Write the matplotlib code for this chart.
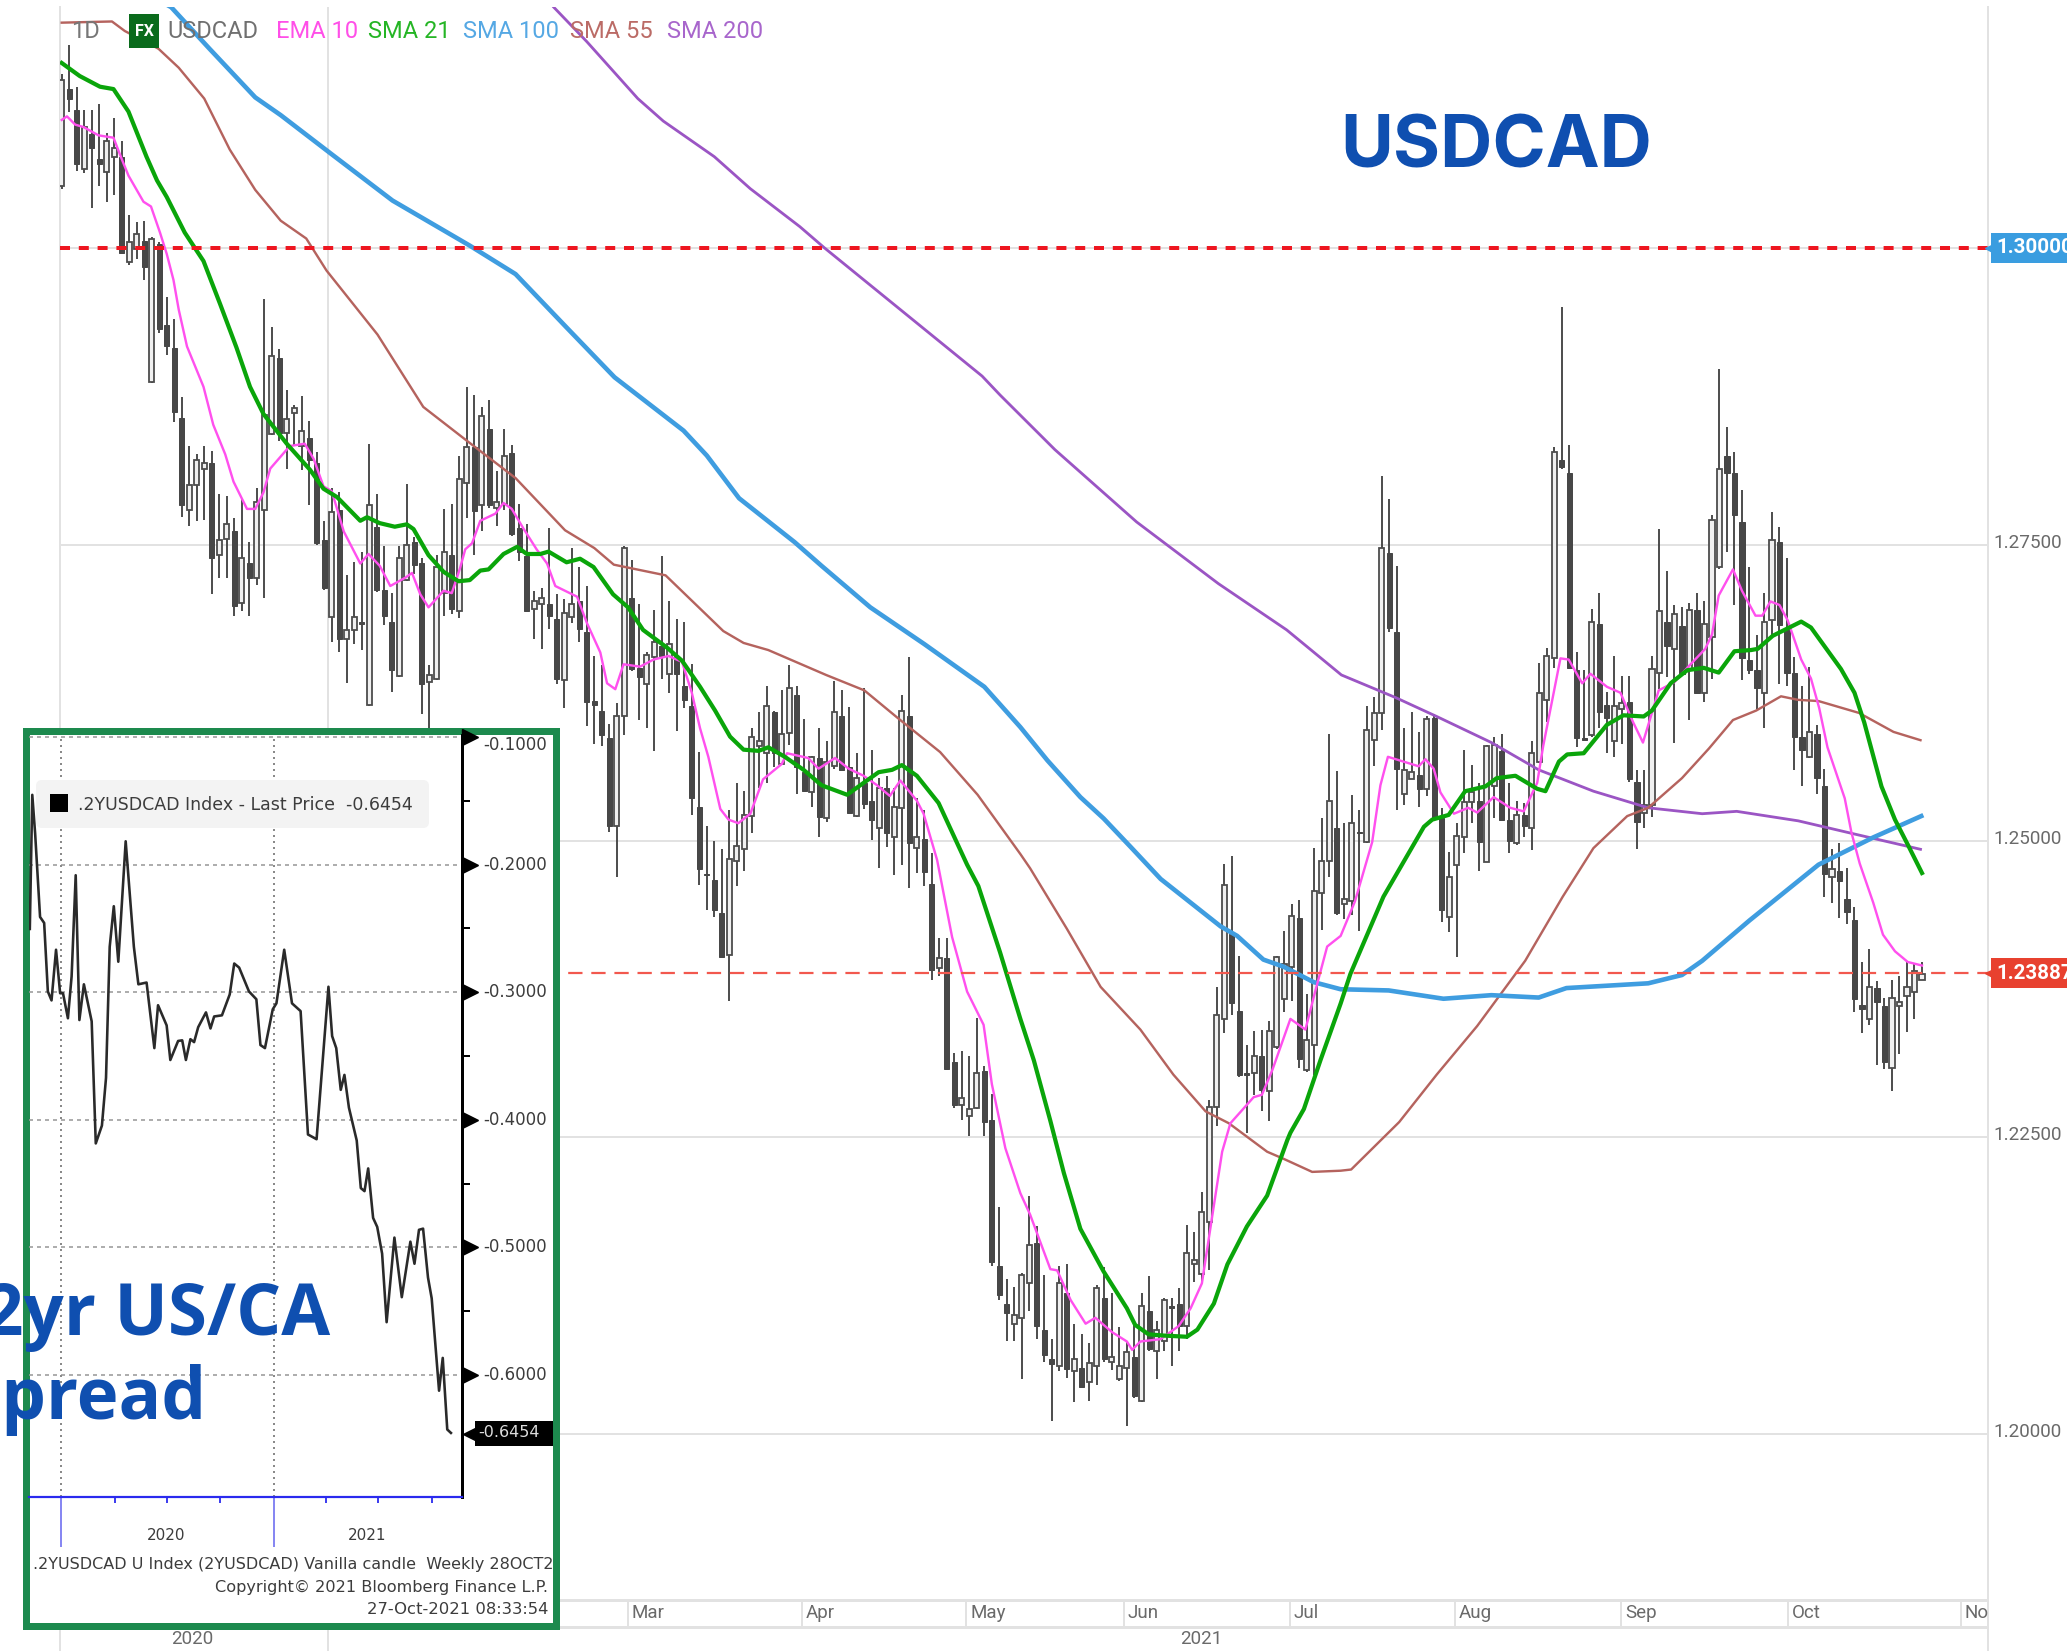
import matplotlib
matplotlib.use("Agg")
import matplotlib.pyplot as plt
from matplotlib.patches import Rectangle, FancyBboxPatch
import numpy as np

W, H = 2067, 1651
plt.rcParams['font.family'] = ['Roboto', 'DejaVu Sans']

# USDCAD daily candles, one entry per bar
opens = [
    1.3052, 1.3134, 1.3116, 1.3067, 1.3096, 1.3075, 1.3064, 1.3077, 1.3077, 1.2988,
    1.2999, 1.3006, 1.2887, 1.3003, 1.2935, 1.2916, 1.2857, 1.2779, 1.2800, 1.2814,
    1.2819, 1.2741, 1.2755, 1.2761, 1.2701, 1.2734, 1.2722, 1.2779, 1.2843, 1.2907,
    1.2844, 1.2861, 1.2833, 1.2840, 1.2819, 1.2754, 1.2689, 1.2779, 1.2670, 1.2678,
    1.2685, 1.2615, 1.2765, 1.2712, 1.2685, 1.2639, 1.2720, 1.2752, 1.2734, 1.2634,
    1.2637, 1.2709, 1.2741, 1.2694, 1.2802, 1.2832, 1.2783, 1.2847, 1.2781, 1.2784,
    1.2827, 1.2764, 1.2740, 1.2696, 1.2700, 1.2700, 1.2687, 1.2636, 1.2689, 1.2702,
    1.2676, 1.2618, 1.2610, 1.2587, 1.2513, 1.2605, 1.2705, 1.2646, 1.2632, 1.2655,
    1.2664, 1.2641, 1.2656, 1.2631, 1.2614, 1.2529, 1.2472, 1.2467, 1.2439, 1.2404,
    1.2483, 1.2493, 1.2521, 1.2580, 1.2574, 1.2609, 1.2565, 1.2591, 1.2623, 1.2558,
    1.2541, 1.2570, 1.2519, 1.2563, 1.2605, 1.2562, 1.2521, 1.2549, 1.2534, 1.2511,
    1.2545, 1.2503, 1.2528, 1.2605, 1.2494, 1.2502, 1.2464, 1.2393, 1.2401, 1.2314,
    1.2277, 1.2268, 1.2275, 1.2306, 1.2265, 1.2142, 1.2110, 1.2093, 1.2098, 1.2127,
    1.2161, 1.2088, 1.2063, 1.2057, 1.2119, 1.2053, 1.2056, 1.2044, 1.2057, 1.2115,
    1.2061, 1.2046, 1.2056, 1.2065, 1.2028, 1.2104, 1.2070, 1.2078, 1.2108, 1.2110,
    1.2091, 1.2143, 1.2135, 1.2179, 1.2276, 1.2350, 1.2422, 1.2357, 1.2304, 1.2304,
    1.2319, 1.2289, 1.2326, 1.2367, 1.2394, 1.2435, 1.2307, 1.2328, 1.2456, 1.2483,
    1.2511, 1.2447, 1.2449, 1.2508, 1.2499, 1.2585, 1.2608, 1.2743, 1.2676, 1.2540,
    1.2552, 1.2556, 1.2544, 1.2604, 1.2519, 1.2436, 1.2480, 1.2503, 1.2533, 1.2534,
    1.2482, 1.2546, 1.2576, 1.2518, 1.2498, 1.2522, 1.2511, 1.2567, 1.2619, 1.2654,
    1.2821, 1.2810, 1.2644, 1.2587, 1.2589, 1.2683, 1.2615, 1.2584, 1.2611, 1.2617,
    1.2550, 1.2524, 1.2530, 1.2642, 1.2685, 1.2662, 1.2681, 1.2645, 1.2695, 1.2625,
    1.2672, 1.2731, 1.2825, 1.2810, 1.2769, 1.2653, 1.2644, 1.2625, 1.2686, 1.2752,
    1.2680, 1.2642, 1.2588, 1.2571, 1.2590, 1.2546, 1.2470, 1.2475, 1.2451, 1.2433,
    1.2362, 1.2350, 1.2376, 1.2361, 1.2309, 1.2361, 1.2369, 1.2373, 1.2383,
]
closes = [
    1.3142, 1.3126, 1.3071, 1.3102, 1.3084, 1.3071, 1.3090, 1.3084, 1.2996, 1.3005,
    1.3012, 1.2984, 1.3008, 1.2932, 1.2917, 1.2862, 1.2783, 1.2800, 1.2821, 1.2819,
    1.2739, 1.2754, 1.2767, 1.2698, 1.2739, 1.2722, 1.2786, 1.2859, 1.2909, 1.2844,
    1.2856, 1.2865, 1.2846, 1.2821, 1.2751, 1.2713, 1.2777, 1.2670, 1.2678, 1.2689,
    1.2683, 1.2783, 1.2712, 1.2690, 1.2644, 1.2739, 1.2750, 1.2733, 1.2632, 1.2640,
    1.2731, 1.2744, 1.2696, 1.2805, 1.2832, 1.2778, 1.2858, 1.2783, 1.2786, 1.2825,
    1.2759, 1.2744, 1.2694, 1.2702, 1.2705, 1.2690, 1.2637, 1.2692, 1.2700, 1.2679,
    1.2617, 1.2615, 1.2589, 1.2513, 1.2605, 1.2747, 1.2645, 1.2638, 1.2657, 1.2668,
    1.2656, 1.2666, 1.2641, 1.2619, 1.2536, 1.2476, 1.2471, 1.2442, 1.2402, 1.2485,
    1.2496, 1.2522, 1.2588, 1.2584, 1.2614, 1.2574, 1.2590, 1.2629, 1.2562, 1.2542,
    1.2571, 1.2520, 1.2567, 1.2609, 1.2560, 1.2524, 1.2553, 1.2531, 1.2518, 1.2545,
    1.2507, 1.2529, 1.2610, 1.2498, 1.2503, 1.2474, 1.2391, 1.2401, 1.2308, 1.2277,
    1.2283, 1.2274, 1.2304, 1.2263, 1.2145, 1.2117, 1.2102, 1.2100, 1.2134, 1.2159,
    1.2091, 1.2067, 1.2059, 1.2127, 1.2055, 1.2063, 1.2040, 1.2060, 1.2123, 1.2063,
    1.2065, 1.2057, 1.2069, 1.2032, 1.2108, 1.2072, 1.2088, 1.2113, 1.2106, 1.2091,
    1.2153, 1.2147, 1.2187, 1.2276, 1.2353, 1.2463, 1.2363, 1.2303, 1.2303, 1.2319,
    1.2290, 1.2340, 1.2402, 1.2396, 1.2437, 1.2316, 1.2332, 1.2458, 1.2483, 1.2534,
    1.2439, 1.2451, 1.2515, 1.2507, 1.2594, 1.2608, 1.2747, 1.2680, 1.2561, 1.2560,
    1.2558, 1.2544, 1.2603, 1.2519, 1.2442, 1.2470, 1.2504, 1.2533, 1.2541, 1.2499,
    1.2580, 1.2581, 1.2518, 1.2500, 1.2522, 1.2513, 1.2574, 1.2625, 1.2656, 1.2828,
    1.2815, 1.2646, 1.2587, 1.2585, 1.2685, 1.2609, 1.2604, 1.2614, 1.2616, 1.2552,
    1.2516, 1.2530, 1.2645, 1.2694, 1.2664, 1.2691, 1.2641, 1.2695, 1.2625, 1.2683,
    1.2771, 1.2814, 1.2810, 1.2775, 1.2654, 1.2644, 1.2629, 1.2685, 1.2754, 1.2682,
    1.2642, 1.2588, 1.2577, 1.2592, 1.2553, 1.2472, 1.2476, 1.2466, 1.2440, 1.2367,
    1.2358, 1.2377, 1.2364, 1.2314, 1.2368, 1.2364, 1.2377, 1.2390, 1.2388,
]
highs = [
    1.3147, 1.3171, 1.3136, 1.3116, 1.3116, 1.3121, 1.3097, 1.3110, 1.3090, 1.3028,
    1.3022, 1.3023, 1.3009, 1.3005, 1.2959, 1.2940, 1.2874, 1.2833, 1.2826, 1.2833,
    1.2829, 1.2793, 1.2791, 1.2772, 1.2788, 1.2752, 1.2798, 1.2957, 1.2933, 1.2915,
    1.2880, 1.2868, 1.2875, 1.2854, 1.2828, 1.2770, 1.2798, 1.2794, 1.2724, 1.2735,
    1.2744, 1.2835, 1.2793, 1.2749, 1.2709, 1.2749, 1.2801, 1.2756, 1.2739, 1.2648,
    1.2741, 1.2780, 1.2784, 1.2825, 1.2883, 1.2876, 1.2866, 1.2872, 1.2812, 1.2847,
    1.2834, 1.2784, 1.2767, 1.2711, 1.2713, 1.2764, 1.2708, 1.2704, 1.2747, 1.2731,
    1.2715, 1.2656, 1.2648, 1.2599, 1.2616, 1.2749, 1.2737, 1.2700, 1.2659, 1.2695,
    1.2740, 1.2702, 1.2687, 1.2685, 1.2649, 1.2575, 1.2513, 1.2500, 1.2493, 1.2526,
    1.2549, 1.2542, 1.2595, 1.2609, 1.2631, 1.2610, 1.2627, 1.2648, 1.2631, 1.2603,
    1.2572, 1.2595, 1.2584, 1.2635, 1.2627, 1.2613, 1.2574, 1.2629, 1.2577, 1.2553,
    1.2555, 1.2545, 1.2623, 1.2655, 1.2536, 1.2526, 1.2490, 1.2418, 1.2418, 1.2321,
    1.2323, 1.2319, 1.2351, 1.2310, 1.2287, 1.2191, 1.2131, 1.2124, 1.2136, 1.2201,
    1.2175, 1.2134, 1.2080, 1.2142, 1.2143, 1.2093, 1.2084, 1.2077, 1.2126, 1.2141,
    1.2119, 1.2090, 1.2078, 1.2092, 1.2119, 1.2133, 1.2095, 1.2115, 1.2115, 1.2123,
    1.2176, 1.2170, 1.2204, 1.2282, 1.2377, 1.2481, 1.2487, 1.2403, 1.2328, 1.2340,
    1.2341, 1.2348, 1.2403, 1.2424, 1.2447, 1.2450, 1.2371, 1.2494, 1.2519, 1.2590,
    1.2559, 1.2515, 1.2539, 1.2526, 1.2614, 1.2621, 1.2808, 1.2788, 1.2732, 1.2595,
    1.2609, 1.2592, 1.2605, 1.2607, 1.2528, 1.2491, 1.2515, 1.2577, 1.2564, 1.2549,
    1.2581, 1.2588, 1.2590, 1.2549, 1.2534, 1.2532, 1.2584, 1.2650, 1.2663, 1.2832,
    1.2950, 1.2834, 1.2659, 1.2644, 1.2696, 1.2709, 1.2626, 1.2656, 1.2639, 1.2639,
    1.2560, 1.2560, 1.2656, 1.2763, 1.2728, 1.2699, 1.2697, 1.2701, 1.2709, 1.2702,
    1.2775, 1.2898, 1.2849, 1.2828, 1.2796, 1.2731, 1.2674, 1.2709, 1.2777, 1.2765,
    1.2739, 1.2655, 1.2631, 1.2647, 1.2598, 1.2561, 1.2493, 1.2498, 1.2477, 1.2444,
    1.2398, 1.2409, 1.2382, 1.2368, 1.2383, 1.2386, 1.2399, 1.2396, 1.2398,
]
lows = [
    1.3050, 1.3115, 1.3065, 1.3063, 1.3034, 1.3052, 1.3039, 1.3045, 1.2995, 1.2986,
    1.2991, 1.2973, 1.2886, 1.2928, 1.2910, 1.2853, 1.2773, 1.2766, 1.2770, 1.2771,
    1.2708, 1.2722, 1.2722, 1.2690, 1.2694, 1.2690, 1.2716, 1.2705, 1.2842, 1.2837,
    1.2814, 1.2833, 1.2813, 1.2783, 1.2750, 1.2712, 1.2668, 1.2659, 1.2633, 1.2666,
    1.2661, 1.2614, 1.2710, 1.2682, 1.2626, 1.2638, 1.2719, 1.2725, 1.2607, 1.2593,
    1.2636, 1.2690, 1.2691, 1.2688, 1.2772, 1.2741, 1.2761, 1.2781, 1.2766, 1.2779,
    1.2757, 1.2736, 1.2693, 1.2670, 1.2662, 1.2679, 1.2632, 1.2612, 1.2684, 1.2668,
    1.2597, 1.2582, 1.2580, 1.2508, 1.2470, 1.2589, 1.2643, 1.2602, 1.2595, 1.2576,
    1.2637, 1.2625, 1.2593, 1.2612, 1.2522, 1.2463, 1.2442, 1.2436, 1.2401, 1.2365,
    1.2462, 1.2475, 1.2507, 1.2545, 1.2549, 1.2562, 1.2564, 1.2581, 1.2540, 1.2542,
    1.2529, 1.2503, 1.2516, 1.2561, 1.2559, 1.2523, 1.2520, 1.2527, 1.2501, 1.2477,
    1.2495, 1.2471, 1.2480, 1.2460, 1.2473, 1.2462, 1.2383, 1.2386, 1.2308, 1.2275,
    1.2265, 1.2251, 1.2274, 1.2251, 1.2142, 1.2113, 1.2078, 1.2078, 1.2046, 1.2104,
    1.2080, 1.2061, 1.2011, 1.2053, 1.2047, 1.2027, 1.2039, 1.2028, 1.2041, 1.2061,
    1.2054, 1.2045, 1.2007, 1.2030, 1.2027, 1.2070, 1.2046, 1.2070, 1.2057, 1.2070,
    1.2080, 1.2128, 1.2129, 1.2138, 1.2260, 1.2338, 1.2353, 1.2301, 1.2254, 1.2286,
    1.2272, 1.2264, 1.2325, 1.2356, 1.2365, 1.2309, 1.2305, 1.2303, 1.2425, 1.2470,
    1.2438, 1.2434, 1.2438, 1.2424, 1.2498, 1.2563, 1.2594, 1.2676, 1.2526, 1.2530,
    1.2552, 1.2529, 1.2538, 1.2517, 1.2432, 1.2423, 1.2402, 1.2490, 1.2515, 1.2475,
    1.2482, 1.2519, 1.2517, 1.2490, 1.2497, 1.2503, 1.2492, 1.2566, 1.2600, 1.2646,
    1.2814, 1.2645, 1.2579, 1.2584, 1.2588, 1.2595, 1.2574, 1.2571, 1.2582, 1.2550,
    1.2493, 1.2511, 1.2520, 1.2628, 1.2638, 1.2583, 1.2641, 1.2602, 1.2624, 1.2617,
    1.2637, 1.2729, 1.2744, 1.2699, 1.2636, 1.2641, 1.2611, 1.2595, 1.2672, 1.2632,
    1.2631, 1.2560, 1.2546, 1.2570, 1.2540, 1.2453, 1.2448, 1.2435, 1.2430, 1.2356,
    1.2338, 1.2345, 1.2311, 1.2308, 1.2289, 1.2320, 1.2339, 1.2350, 1.2383,
]

# moving averages: bar position and price
ema10_x = [0, .7, 1.8, 2.9, 4.9, 6.9, 8, 8.9, 10.9, 11.9, 13.1, 14, 14.9, 15.6, 16.7, 18.9, 20.2, 21.8, 22.9, 24.7,
           25.8, 26.9, 27.8, 30.4, 32.4, 33.6, 34.9, 36, 37.6, 39.8, 40.9, 42.4, 43.8, 45.8, 46.7, 47.8, 48.9, 50.9,
           52, 53.1, 53.8, 54.7, 55.8, 57.8, 58.9, 60, 61.5, 63.3, 64.7, 65.8, 68.7, 70, 71.8, 72.7, 73.8, 74.9, 77.1,
           78.9, 80.9, 82.7, 84, 85.1, 86.2, 87.8, 88.9, 90.2, 91.8, 93.5, 96, 96.7, 99.5, 100.9, 103.1, 104.9, 106.9,
           108.7, 110.4, 111.8, 114, 114.9, 116.7, 118.7, 120.7, 122.9, 124, 125.8, 127.8, 129.1, 131.8, 132.7, 134.5,
           136.5, 137.8, 140, 142, 142.7, 143.8, 146.5, 148.9, 150.5, 152, 153.6, 154.7, 155.8, 158.9, 160, 161.4,
           163.8, 165.8, 167.1, 168.7, 170.5, 172.4, 174.7, 175.8, 176.8, 180.9, 181.8, 182.9, 183.8, 185.6, 187.5,
           188.7, 190.9, 193.1, 194.9, 196.7, 197.5, 199.8, 200.9, 202.7, 203.8, 206, 207.8, 209.5, 210.8, 212.9, 215,
           217, 219.1, 220, 220.9, 222.8, 224, 225.8, 226.7, 227.8, 229, 230.1, 231.9, 233.2, 234.3, 235.4, 237.7,
           238.6, 239.7, 241.5, 242.8, 244.4, 246.1, 248]
ema10_y = [1.3108, 1.3111, 1.3104, 1.3102, 1.3095, 1.3093, 1.3075, 1.3061, 1.3039, 1.3035, 1.3013, 1.2995, 1.2973,
           1.2948, 1.2917, 1.2883, 1.2851, 1.2826, 1.2803, 1.2780, 1.2780, 1.2794, 1.2814, 1.2833, 1.2835, 1.2822,
           1.2799, 1.2795, 1.2761, 1.2734, 1.2742, 1.2732, 1.2715, 1.2722, 1.2726, 1.2708, 1.2697, 1.2711, 1.2709,
           1.2730, 1.2746, 1.2751, 1.2770, 1.2776, 1.2785, 1.2780, 1.2764, 1.2746, 1.2734, 1.2715, 1.2706, 1.2684,
           1.2659, 1.2633, 1.2628, 1.2649, 1.2647, 1.2653, 1.2656, 1.2651, 1.2625, 1.2595, 1.2571, 1.2527, 1.2518,
           1.2515, 1.2523, 1.2552, 1.2565, 1.2574, 1.2570, 1.2561, 1.2570, 1.2561, 1.2555, 1.2547, 1.2538, 1.2551,
           1.2534, 1.2523, 1.2484, 1.2419, 1.2373, 1.2345, 1.2295, 1.2241, 1.2203, 1.2185, 1.2139, 1.2138, 1.2113,
           1.2093, 1.2098, 1.2086, 1.2078, 1.2071, 1.2078, 1.2080, 1.2091, 1.2106, 1.2127, 1.2193, 1.2238, 1.2262,
           1.2284, 1.2286, 1.2307, 1.2350, 1.2341, 1.2373, 1.2411, 1.2420, 1.2449, 1.2499, 1.2547, 1.2571, 1.2563,
           1.2569, 1.2561, 1.2541, 1.2523, 1.2528, 1.2524, 1.2537, 1.2528, 1.2525, 1.2549, 1.2580, 1.2654, 1.2653,
           1.2633, 1.2641, 1.2630, 1.2625, 1.2600, 1.2583, 1.2627, 1.2634, 1.2648, 1.2662, 1.2674, 1.2707, 1.2729,
           1.2711, 1.2690, 1.2690, 1.2702, 1.2699, 1.2686, 1.2653, 1.2637, 1.2612, 1.2579, 1.2536, 1.2507, 1.2481,
           1.2448, 1.2421, 1.2407, 1.2398, 1.2395]

sma21_x = [0, 2.4, 5.1, 6.9, 8.9, 11.3, 12.7, 14, 16.4, 18.9, 21.1, 23.3, 25.1, 26.9, 30, 33.1, 34.9, 36.7, 39.8, 40.7,
           42.4, 44.4, 46, 46.9, 48.9, 50.9, 52.9, 54.4, 55.8, 56.9, 58.9, 60.7, 62, 63.8, 64.9, 67.3, 69.1, 70.9, 73.5,
           75.5, 77.5, 80.7, 82.7, 85.1, 87.1, 89.1, 90.9, 92.9, 94.2, 96.4, 98.9, 101.3, 104.7, 106.9, 108.9, 110.7,
           112, 114, 116.9, 120.7, 122.2, 125.1, 127.8, 129.6, 131.8, 133.6, 135.8, 138.9, 142, 143.1, 144.9, 146.9,
           150, 151.4, 153.6, 155.4, 158, 160.7, 163.4, 163.8, 165.6, 167.8, 170.5, 171.8, 176.2, 181.6, 182.7, 184.9,
           187.1, 189.8, 191.3, 193.8, 196.7, 197.8, 199.6, 200.7, 202.9, 206, 208.2, 210.9, 212, 214.5, 216.7, 218.9,
           220.9, 223, 225.2, 226.1, 228.1, 231.9, 233.2, 237.2, 239, 240.3, 242.6, 244.4, 246.1, 248]
sma21_y = [1.3156, 1.3145, 1.3136, 1.3134, 1.3115, 1.3077, 1.3057, 1.3043, 1.3013, 1.2989, 1.2953, 1.2916, 1.2883,
           1.2860, 1.2835, 1.2813, 1.2797, 1.2790, 1.2770, 1.2773, 1.2768, 1.2765, 1.2767, 1.2763, 1.2741, 1.2727,
           1.2719, 1.2720, 1.2728, 1.2729, 1.2742, 1.2748, 1.2742, 1.2742, 1.2744, 1.2735, 1.2738, 1.2731, 1.2708,
           1.2697, 1.2678, 1.2663, 1.2652, 1.2630, 1.2610, 1.2588, 1.2577, 1.2576, 1.2579, 1.2571, 1.2560, 1.2547,
           1.2539, 1.2549, 1.2558, 1.2560, 1.2564, 1.2555, 1.2532, 1.2480, 1.2462, 1.2406, 1.2350, 1.2315, 1.2264,
           1.2220, 1.2173, 1.2137, 1.2106, 1.2092, 1.2084, 1.2083, 1.2082, 1.2088, 1.2110, 1.2143, 1.2175, 1.2201,
           1.2248, 1.2254, 1.2274, 1.2315, 1.2363, 1.2388, 1.2453, 1.2512, 1.2518, 1.2522, 1.2542, 1.2546, 1.2553,
           1.2555, 1.2544, 1.2542, 1.2567, 1.2573, 1.2574, 1.2598, 1.2606, 1.2605, 1.2610, 1.2633, 1.2644, 1.2646,
           1.2642, 1.2660, 1.2661, 1.2662, 1.2673, 1.2685, 1.2680, 1.2645, 1.2625, 1.2600, 1.2546, 1.2518, 1.2497,
           1.2473]

sma100_x = [13.5, 14.6, 19.7, 25.8, 29.2, 36, 44.1, 54.4, 60.5, 67.3, 73.7, 82.9, 86, 90.3, 97.7, 101.3, 107.8, 115,
            123, 127.8, 131.4, 135.8, 138.9, 142.5, 146.5, 150.9, 154.5, 156.7, 160.2, 162.9, 166.9, 170.5, 176.9,
            184.2, 190.6, 196.9, 200.6, 211.5, 216, 218.7, 225, 234.2, 241.5, 247.9]
sma100_y = [1.3207, 1.3203, 1.3168, 1.3127, 1.3112, 1.3079, 1.3040, 1.3002, 1.2978, 1.2933, 1.2891, 1.2846, 1.2825,
            1.2789, 1.2752, 1.2732, 1.2697, 1.2666, 1.2630, 1.2596, 1.2568, 1.2537, 1.2519, 1.2495, 1.2468, 1.2446,
            1.2428, 1.2420, 1.2400, 1.2394, 1.2381, 1.2375, 1.2374, 1.2367, 1.2370, 1.2368, 1.2376, 1.2380, 1.2387,
            1.2399, 1.2433, 1.2480, 1.2503, 1.2521]

sma55_x = [0, 6.7, 8.4, 12.9, 15.6, 19, 22.4, 25.8, 29.2, 32.6, 35.3, 42.1, 48.2, 53.7, 60.5, 67.1, 71, 73.6, 80.5, 88.2,
           90.9, 94.2, 101.9, 107, 111.4, 117.1, 122.1, 127.8, 129.1, 134, 138.5, 143.8, 148.2, 152.5, 155.6, 160.7,
           162.9, 166.7, 170.5, 171.9, 178.3, 183.3, 188.7, 195.1, 200.1, 204.2, 208.7, 211.5, 216, 219.6, 222.8,
           225.9, 229.2, 231.5, 234.2, 239.6, 244.2, 247.8]
sma55_y = [1.3190, 1.3191, 1.3183, 1.3168, 1.3152, 1.3126, 1.3083, 1.3049, 1.3023, 1.3008, 1.2981, 1.2927, 1.2866,
           1.2839, 1.2806, 1.2762, 1.2747, 1.2733, 1.2724, 1.2677, 1.2667, 1.2661, 1.2640, 1.2627, 1.2604, 1.2575,
           1.2539, 1.2489, 1.2477, 1.2426, 1.2377, 1.2341, 1.2303, 1.2272, 1.2262, 1.2238, 1.2232, 1.2221, 1.2222,
           1.2223, 1.2263, 1.2303, 1.2344, 1.2399, 1.2453, 1.2494, 1.2521, 1.2528, 1.2553, 1.2578, 1.2602, 1.2610,
           1.2622, 1.2619, 1.2618, 1.2608, 1.2592, 1.2585]

sma200_x = [65.6, 70, 76.8, 80.2, 87, 91.8, 98.4, 101.7, 122.7, 125.1, 132.4, 143.3, 154.2, 163.3, 170.6, 177.8, 183.3,
            190.6, 196.9, 204.2, 211.5, 218.7, 223.3, 231.5, 239.6, 247.8]
sma200_y = [1.3203, 1.3174, 1.3126, 1.3107, 1.3077, 1.3050, 1.3018, 1.3000, 1.2892, 1.2876, 1.2830, 1.2769, 1.2717,
            1.2678, 1.2640, 1.2621, 1.2605, 1.2583, 1.2560, 1.2542, 1.2528, 1.2523, 1.2525, 1.2517, 1.2505, 1.2493]

price_ticks = [1.275, 1.25, 1.225, 1.20]
price_labels = ['1.27500', '1.25000', '1.22500', '1.20000']
level_major = 1.30
last_price = 1.23887
year_bar = 35.5
month_bars = [75.5, 98.7, 120.6, 141.6, 163.7, 185.8, 207.9, 230.1, 253.2]
month_labels = ['Mar', 'Apr', 'May', 'Jun', 'Jul', 'Aug', 'Sep', 'Oct', 'Nov']

# 2yr spread inset (weekly)
spread_x = [0, .6, 1.3, 2.5, 3.5, 4.4, 5.3, 6.4, 7.4, 8.1, 9.3, 10.2, 11.2, 12.1, 13.2, 15.1, 16.1, 17.6, 18.6, 19.5,
            20.5, 21.6, 23.4, 25.4, 26.5, 28.5, 30.4, 31.3, 33.4, 34.3, 36.2, 37.2, 38.1, 39.2, 40.1, 41.1, 43, 44.1,
            45, 46.9, 48.8, 49.9, 51.1, 53.5, 55.3, 56.3, 57.4, 59.3, 60.2, 62.1, 64, 66.1, 67.9, 70, 72.9, 73.8, 74.8,
            75.9, 76.8, 77.9, 79.8, 80.8, 81.7, 82.6, 83.8, 84.8, 86, 87.1, 89, 90.8, 92.9, 93.9, 95, 96, 97.2, 98.1,
            99.9, 100.8, 101.9, 102.8]
spread_y = [-.2504, -.1453, -.1757, -.2410, -.2457, -.2994, -.3064, -.2667, -.3008, -.3008, -.3204, -.2877, -.2083,
            -.3218, -.2938, -.3228, -.4185, -.4045, -.3671, -.2644, -.2326, -.2761, -.1817, -.2644, -.2938, -.2924,
            -.3438, -.3102, -.3260, -.3531, -.3382, -.3377, -.3531, -.3368, -.3391, -.3274, -.3158, -.3284, -.3190,
            -.3181, -.3017, -.2775, -.2807, -.2994, -.3055, -.3414, -.3438, -.3134, -.3087, -.2667, -.3087, -.3148,
            -.4115, -.4152, -.2957, -.3344, -.3438, -.3765, -.3648, -.3905, -.4162, -.4535, -.4559, -.4381, -.4769,
            -.4839, -.5049, -.5586, -.4923, -.5390, -.4955, -.5128, -.4862, -.4853, -.5236, -.5399, -.6123, -.5866,
            -.6427, -.6454]
spread_major = [-.1, -.2, -.3, -.4, -.5, -.6]
spread_minor = [-.15, -.25, -.35, -.45, -.55]
spread_years = [7.6, 59.6]
spread_quarters = [20.8, 33.5, 46.4, 72.3, 85, 98.2]
spread_last = -0.6454

GREY = '#e2e2e2'
TXT = '#6a6a6a'
CANDLE = '#474747'
BIG = '#0f4fb0'


def add_ax(l, t, r, b, **kw):
    return fig.add_axes([l / W, 1 - b / H, (r - l) / W, (b - t) / H], **kw)


def px(n):
    # pixels to points at dpi 100
    return n * 0.72


fig = plt.figure(figsize=(W / 100, H / 100), dpi=100, facecolor='white')

# main chart
ax = add_ax(60, 7, 1988, 1599)
ax.set_xlim(-0.23, 256.8)
ax.set_ylim(1.30 - 1351 / 11860, 1.30 + 241 / 11860)
ax.set_xticks([])
ax.set_yticks([])
for s in ['top', 'bottom']:
    ax.spines[s].set_visible(False)
for s in ['left', 'right']:
    ax.spines[s].set_color(GREY)
    ax.spines[s].set_linewidth(px(2))

for p in price_ticks + [level_major]:
    ax.axhline(p, color=GREY, lw=px(2), zorder=1)
ax.axvline(year_bar, color=GREY, lw=px(2), zorder=1)

x = np.arange(len(opens))
o, c, hi, lo = map(np.array, (opens, closes, highs, lows))
up = c >= o
ax.vlines(x, lo, hi, color=CANDLE, lw=px(1.9), zorder=2)
ax.bar(x[~up], (o - c)[~up], bottom=c[~up], width=0.68, color=CANDLE, edgecolor=CANDLE, lw=px(1), zorder=3)
ax.bar(x[up], (c - o)[up], bottom=o[up], width=0.68, color='#f0f0f0', edgecolor='#4c4c4c', lw=px(1.8), zorder=3)

ax.plot(sma200_x, sma200_y, color='#9b55c4', lw=px(2.8), zorder=4, solid_joinstyle='round')
ax.plot(sma55_x, sma55_y, color='#b5635e', lw=px(2.4), zorder=4, solid_joinstyle='round')
ax.plot(sma100_x, sma100_y, color='#3f9de0', lw=px(4.6), zorder=5, solid_joinstyle='round')
ax.plot(ema10_x, ema10_y, color='#ff50ee', lw=px(2.4), zorder=6, solid_joinstyle='round')
ax.plot(sma21_x, sma21_y, color='#0aa50a', lw=px(4.2), zorder=7, solid_joinstyle='round')

ax.axhline(level_major, color='#ee1620', lw=px(4), ls=(0, (2.5, 2.2)), zorder=8)
ax.axhline(last_price, color='#f2584e', lw=px(2.2), ls=(0, (6.5, 4)), zorder=8)

for p, lab in zip(price_ticks, price_labels):
    ax.annotate(lab, xy=(1, p), xycoords=ax.get_yaxis_transform(), xytext=(px(5), px(2)),
                textcoords='offset points', ha='left', va='center', color=TXT, fontsize=13.6, annotation_clip=False)

# price badges on the right
for p, lab, col in [(level_major, '1.30000', '#3a9de0'), (last_price, '1.23887', '#e8412f')]:
    ax.plot([1.0018], [p], marker='<', ms=px(13), color=col, transform=ax.get_yaxis_transform(),
            clip_on=False, zorder=9)
    ax.add_patch(Rectangle((1.0013, p - 15 / 11860), 0.05, 30 / 11860, transform=ax.get_yaxis_transform(),
                           fc=col, ec='none', clip_on=False, zorder=9))
    ax.annotate(lab, xy=(1, p), xycoords=ax.get_yaxis_transform(), xytext=(px(8), 0),
                textcoords='offset points', ha='left', va='center', color='white', fontsize=14.8,
                fontweight='bold', annotation_clip=False, zorder=10)

# legend row
for lab, xp, col in [('1D', 71, '#777777'), ('USDCAD', 167, '#707070'), ('EMA 10', 276, '#ff4fe8'),
                     ('SMA 21', 368, '#25b525'), ('SMA 100', 463, '#55a8e4'), ('SMA 55', 570, '#bb6b66'),
                     ('SMA 200', 667, '#a866cc')]:
    fig.text(xp / W, 1 - 31 / H, lab, color=col, fontsize=17, va='center', ha='left', zorder=10)
fig.patches.append(Rectangle((129 / W, 1 - 48 / H), 30 / W, 34 / H, transform=fig.transFigure, fc='#0a6b1c', ec='none'))
fig.text(144 / W, 1 - 31 / H, 'FX', color='white', fontsize=11.5, fontweight='bold', ha='center', va='center', zorder=10)

fig.text(1340 / W, 1 - 167 / H, 'USDCAD', color=BIG, fontsize=52, fontweight='bold', family='Inter', ha='left',
         va='baseline', zorder=10)

# date strip below the chart
ax_d = add_ax(60, 1599, 1988, 1651)
ax_d.set_xlim(ax.get_xlim())
ax_d.set_ylim(1, 0)
ax_d.set_xticks([])
ax_d.set_yticks([])
for s in ['top', 'bottom']:
    ax_d.spines[s].set_visible(False)
for s in ['left', 'right']:
    ax_d.spines[s].set_color(GREY)
    ax_d.spines[s].set_linewidth(px(2))
ax_d.axhline(0.01, color=GREY, lw=px(3))
ax_d.axhline(0.54, color=GREY, lw=px(3))
ax_d.axvline(year_bar, color=GREY, lw=px(2))
ax_d.vlines(month_bars, 0, 0.54, color=GREY, lw=px(2))
for m, lab in zip(month_bars, month_labels):
    ax_d.text(m + 0.5, 0.27, lab, color=TXT, fontsize=13.5, ha='left', va='center', clip_on=True)
ax_d.text(17.4, 0.77, '2020', color=TXT, fontsize=13.5, ha='center', va='center')
ax_d.text(151.9, 0.77, '2021', color=TXT, fontsize=13.5, ha='center', va='center')

# inset frame, coordinates in pixels
ax_f = add_ax(26, 731, 556, 1626, zorder=5)
ax_f.set_xlim(26, 556)
ax_f.set_ylim(1626, 731)
ax_f.set_xticks([])
ax_f.set_yticks([])
for s in ax_f.spines.values():
    s.set_color('#1d8a4e')
    s.set_linewidth(px(7))
    s.set_zorder(20)

INS = '#3c3c3c'
ax_f.text(166, 1535, '2020', color=INS, fontsize=11, family='DejaVu Sans', ha='center', va='center')
ax_f.text(367, 1535, '2021', color=INS, fontsize=11, family='DejaVu Sans', ha='center', va='center')
ax_f.text(33, 1564, '.2YUSDCAD U Index (2YUSDCAD) Vanilla candle  Weekly 28OCT20', color=INS, fontsize=11.5,
          family='DejaVu Sans', ha='left', va='center', clip_on=True)
ax_f.text(548, 1587, 'Copyright© 2021 Bloomberg Finance L.P.', color=INS, fontsize=11.6, family='DejaVu Sans',
          ha='right', va='center')
ax_f.text(548, 1609, '27-Oct-2021 08:33:54', color=INS, fontsize=11.8, family='DejaVu Sans', ha='right', va='center')

# inset plot
ax_i = add_ax(29, 735, 462, 1497, zorder=6)
ax_i.patch.set_alpha(0)
ax_i.set_xlim(-0.2, 105.5)
ax_i.set_ylim(-0.1 - 760 / 1276, -0.0984)
for s in ['top', 'left']:
    ax_i.spines[s].set_visible(False)
ax_i.spines['right'].set_color('black')
ax_i.spines['right'].set_linewidth(px(3))
ax_i.spines['bottom'].set_color('#2a2aee')
ax_i.spines['bottom'].set_linewidth(px(2.2))
ax_i.yaxis.tick_right()
ax_i.set_yticks(spread_major)
ax_i.set_yticklabels([])
ax_i.set_yticks(spread_minor, minor=True)
ax_i.tick_params(axis='y', which='major', length=0)
ax_i.tick_params(axis='y', which='minor', length=px(8), width=px(2), color='black')
ax_i.set_xticks(spread_years)
ax_i.set_xticklabels([])
ax_i.set_xticks(spread_quarters, minor=True)
ax_i.tick_params(axis='x', which='major', length=px(50), width=px(1.6), color='#6a6af0')
ax_i.tick_params(axis='x', which='minor', length=px(6), width=px(1.8), color='#2a2aee')
for v in spread_major:
    ax_i.axhline(v, color='#9a9a9a', lw=px(1.6), ls=(0, (2.5, 2.5)), zorder=1)
for w in spread_years:
    ax_i.axvline(w, color='#8a8a8a', lw=px(2), ls=(0, (1, 2)), zorder=1)

# legend box sits above the grid of the inset
ax_i.add_patch(FancyBboxPatch((38, 782), 389, 44, boxstyle='round,pad=2,rounding_size=6', fc='#f3f3f3', ec='none',
                              transform=ax_f.transData, zorder=2))
ax_i.add_patch(Rectangle((50, 794), 18, 18, fc='black', ec='none', transform=ax_f.transData, zorder=2.5))
ax_i.text(78, 805, '.2YUSDCAD Index - Last Price  -0.6454', color=INS, fontsize=12.5, family='DejaVu Sans',
          ha='left', va='center', transform=ax_f.transData, zorder=2.5)
ax_i.plot(spread_x, spread_y, color='#2a2a2a', lw=px(2.6), zorder=3, solid_joinstyle='round')

tr = ax_i.get_yaxis_transform()
ax_i.plot([1.018] * len(spread_major), spread_major, linestyle='none', marker='>', ms=px(16), color='black',
          transform=tr, clip_on=False, zorder=4)
for v in spread_major:
    off = -px(8) if v == spread_major[0] else 0
    ax_i.annotate(f'{v:.4f}', xy=(1.048, v), xycoords=tr, xytext=(0, off), textcoords='offset points',
                  color=INS, fontsize=12, family='DejaVu Sans', ha='left', va='center', annotation_clip=False)
ax_f.add_patch(Rectangle((475, 1421), 78, 25, fc='black', ec='none', zorder=4))
ax_f.plot([470], [1433.5], marker='<', ms=px(14), color='black', zorder=4)
ax_i.annotate(f'{spread_last:.4f}', xy=(1.038, spread_last), xycoords=tr, color='#dddddd', fontsize=11.5,
              family='DejaVu Sans', ha='left', va='center', annotation_clip=False, zorder=8)

# overlay captions, partly cut off by the figure edge
fig.text(330 / W, 1 - 1335 / H, '2yr US/CA', color=BIG, fontsize=51, fontweight='bold', family='Open Sans', ha='right',
         va='baseline', zorder=12)
fig.text(207 / W, 1 - 1419 / H, 'spread', color=BIG, fontsize=51, fontweight='bold', family='Open Sans', ha='right',
         va='baseline', zorder=12)

fig.savefig('out.png', dpi=100, facecolor='white')
